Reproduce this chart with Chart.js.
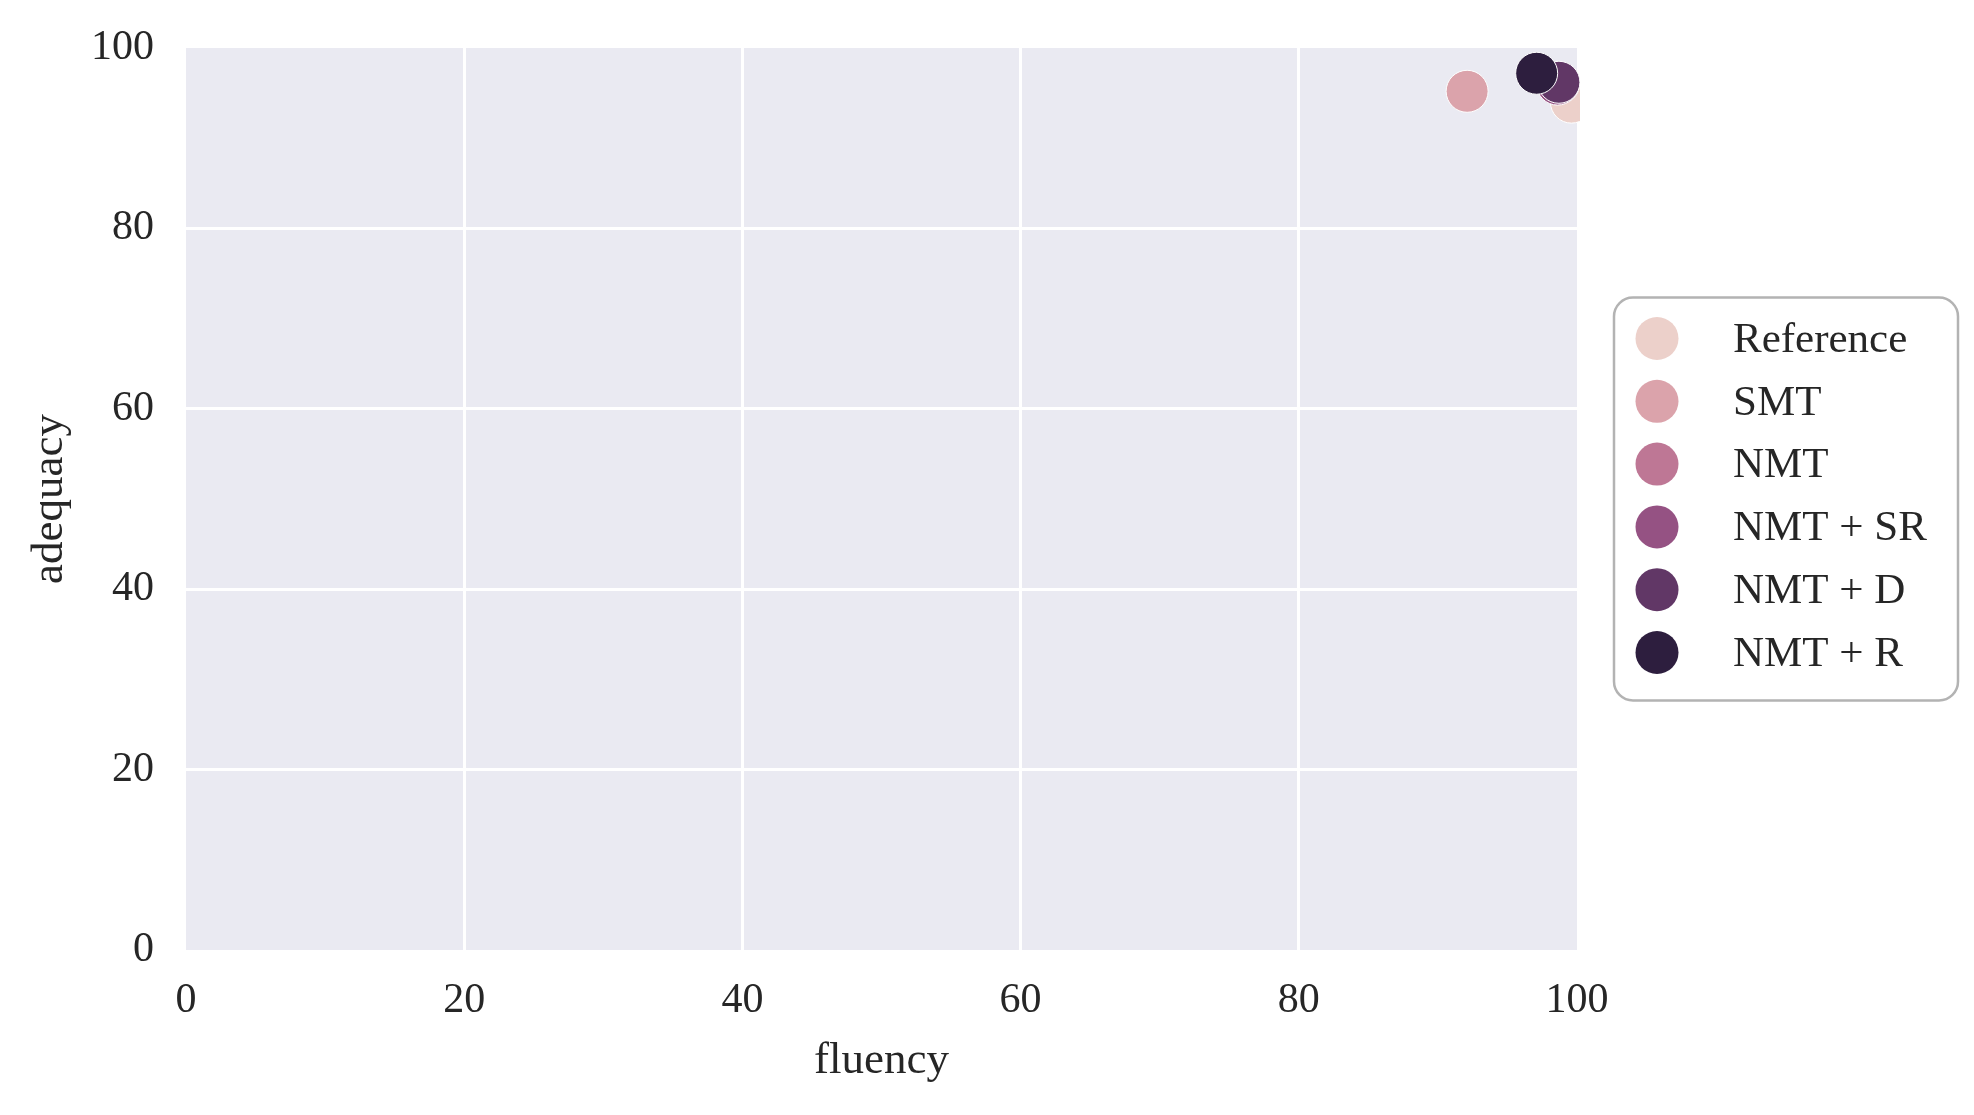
<!DOCTYPE html>
<html>
<head>
<meta charset="utf-8">
<title>fluency vs adequacy</title>
<script src="https://cdn.jsdelivr.net/npm/chart.js@4"></script>
<style>
    body { margin: 0; background: #fff; }
    #wrap { width: 1974px; height: 1115px; }
</style>
</head>
<body>
<div id="wrap"><canvas id="scatterChart" width="1974" height="1115"></canvas></div>
<script>
// systems and their mean scores
const systems = ['Reference', 'SMT', 'NMT', 'NMT + SR', 'NMT + D', 'NMT + R'];
const fluency = [99.6, 92.1, 98.7, 98.6, 98.7, 97.1];
const adequacy = [94.0, 95.2, 96.1, 96.0, 96.2, 97.2];
const colors = ['#ecd0ca', '#dba3ab', '#be7795', '#955283', '#613766', '#2d1e3e'];
const tickValues = [0, 20, 40, 60, 80, 100];

const FONT = '"Liberation Serif", "DejaVu Serif", serif';
const TEXT = '#262626';

// grey panel behind the plot
const panelBg = {
    id: 'panelBg',
    beforeDraw(chart) {
        const { ctx, chartArea: a } = chart;
        ctx.save();
        ctx.fillStyle = '#eaeaf2';
        ctx.fillRect(a.left, a.top, a.right - a.left, a.bottom - a.top);
        ctx.restore();
    }
};

// matplotlib style framed legend on the right
const boxLegend = {
    id: 'boxLegend',
    afterDraw(chart) {
        const { ctx, chartArea: a } = chart;
        const left = a.right + 37;
        const w = 344, rowH = 62.8;
        const h = 403;
        const top = (a.top + a.bottom) / 2 - h / 2;
        ctx.save();
        ctx.beginPath();
        ctx.roundRect(left, top, w, h, 19);
        ctx.fillStyle = 'rgba(255,255,255,0.9)';
        ctx.fill();
        ctx.lineWidth = 2.5;
        ctx.strokeStyle = '#b3b3b3';
        ctx.stroke();

        ctx.font = '43px ' + FONT;
        ctx.textBaseline = 'middle';
        ctx.fillStyle = TEXT;
        const firstY = top + 41;
        chart.data.datasets.forEach((ds, i) => {
            const cy = firstY + i * rowH;
            ctx.beginPath();
            ctx.arc(left + 43, cy, 21.5, 0, Math.PI * 2);
            ctx.fillStyle = ds.backgroundColor;
            ctx.fill();
            ctx.fillStyle = TEXT;
            ctx.fillText(ds.label, left + 119, cy + 2);
        });
        ctx.restore();
    }
};

const edgeGrid = (c) => (c.tick && (c.tick.value === 0 || c.tick.value === 100)) ? 'rgba(0,0,0,0)' : '#ffffff';

const datasets = systems.map((name, i) => ({
    label: name,
    data: [{ x: fluency[i], y: adequacy[i] }],
    backgroundColor: colors[i],
    borderColor: '#ffffff',
    borderWidth: 1,
    pointRadius: 21,
    pointHoverRadius: 21,
    order: systems.length - i,
    clip: { left: false, top: false, right: 3, bottom: false }
}));

const ctx = document.getElementById('scatterChart').getContext('2d');
const chart = new Chart(ctx, {
    type: 'scatter',
    data: { datasets },
    options: {
        responsive: false,
        animation: false,
        layout: { padding: { left: 0, right: 397, top: 48, bottom: 0 } },
        plugins: {
            legend: { display: false },
            tooltip: { enabled: false }
        },
        scales: {
            x: {
                type: 'linear',
                min: 0,
                max: 100,
                afterBuildTicks: (scale) => { scale.ticks = tickValues.map(v => ({ value: v })); },
                afterFit: (scale) => {
                    scale.height = 165;
                    scale.paddingLeft = 0;
                    scale.paddingRight = 0;
                },
                border: { display: false },
                grid: { color: edgeGrid, lineWidth: 3, drawTicks: false },
                ticks: { padding: 26, color: TEXT, font: { family: FONT, size: 42 } },
                title: {
                    display: true,
                    text: 'fluency',
                    color: TEXT,
                    font: { family: FONT, size: 45 },
                    padding: { top: 0, bottom: 27 }
                }
            },
            y: {
                type: 'linear',
                min: 0,
                max: 100,
                afterBuildTicks: (scale) => { scale.ticks = tickValues.map(v => ({ value: v })); },
                afterFit: (scale) => {
                    scale.width = 186;
                    scale.paddingTop = 0;
                    scale.paddingBottom = 0;
                },
                border: { display: false },
                grid: { color: edgeGrid, lineWidth: 3, drawTicks: false },
                ticks: { padding: 32, color: TEXT, font: { family: FONT, size: 42 } },
                title: {
                    display: true,
                    text: 'adequacy',
                    color: TEXT,
                    font: { family: FONT, size: 45 },
                    padding: { top: 23, bottom: 0 }
                }
            }
        }
    },
    plugins: [panelBg, boxLegend]
});
</script>
</body>
</html>
